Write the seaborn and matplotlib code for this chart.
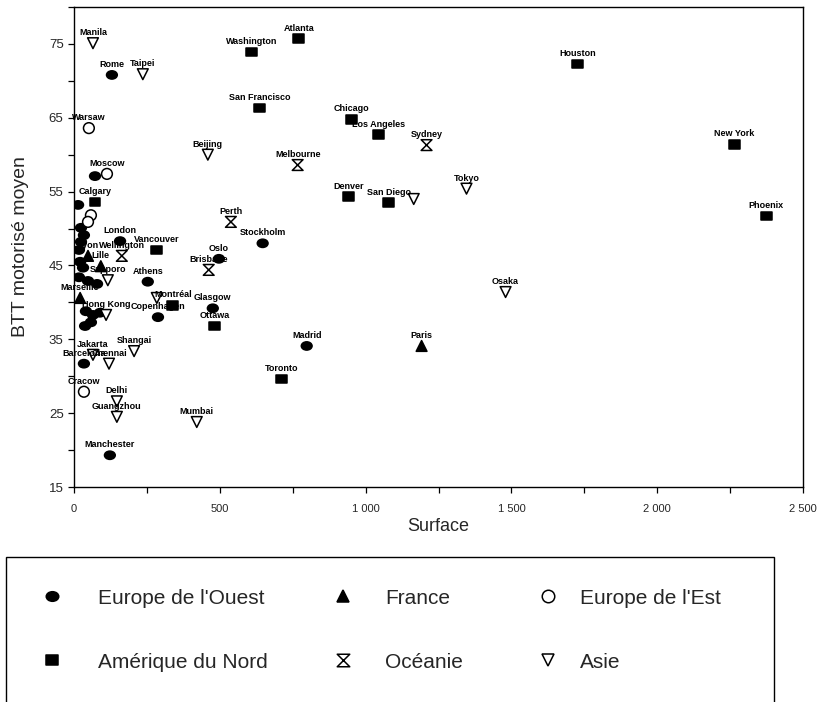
import numpy as np
import pandas as pd
import matplotlib
matplotlib.use("Agg")
import matplotlib.pyplot as plt
from matplotlib.path import Path
from matplotlib.transforms import Affine2D
from matplotlib.lines import Line2D
from matplotlib.patches import Rectangle
from matplotlib.ticker import MultipleLocator, FixedLocator
import seaborn as sns

# --- data -------------------------------------------------------------
cities = [
    # Europe de l'Ouest
    "Rome", "", "", "Stockholm", "London", "Oslo", "Athens", "Copenhagen",
    "Glasgow", "Madrid", "Barcelona", "Manchester",
    "", "", "", "", "", "", "", "", "", "", "", "", "", "",
    # France
    "Lyon", "Lille", "Marseille", "Paris",
    # Europe de l'Est
    "Warsaw", "Moscow", "", "", "Cracow",
    # Amérique du Nord
    "Atlanta", "Washington", "Houston", "San Francisco", "Chicago",
    "Los Angeles", "New York", "Denver", "San Diego", "Phoenix", "Calgary",
    "Vancouver", "Montréal", "Ottawa", "Toronto",
    # Océanie
    "Sydney", "Melbourne", "Perth", "Wellington", "Brisbane",
    # Asie
    "Manila", "Taipei", "Beijing", "Tokyo", "", "Osaka", "Sapporo",
    "Hong Kong", "", "Jakarta", "Shangai", "Chennai", "Delhi", "Guangzhou",
    "Mumbai",
]

surface = [
    130, 72, 14, 647, 158, 497, 253, 288, 476, 798, 34, 123,
    24, 34, 24, 17, 21, 31, 17, 48, 79, 41, 65, 89, 58, 38,
    48, 92, 21, 1192,
    51, 113, 58, 48, 34,
    771, 610, 1726, 637, 952, 1045, 2264, 942, 1079, 2374, 72, 284, 339, 483, 712,
    1209, 767, 538, 164, 462,
    65, 236, 459, 1346, 1165, 1480, 116, 110, 284, 65, 206, 120, 147, 147, 421,
]

btt = [
    70.8, 57.1, 53.2, 48.0, 48.3, 45.9, 42.8, 38.0, 39.2, 34.1, 31.7, 19.3,
    50.1, 49.1, 48.2, 47.1, 45.5, 44.7, 43.4, 42.9, 42.5, 38.8, 38.3, 38.6, 37.3, 36.8,
    46.3, 44.9, 40.6, 34.1,
    63.6, 57.4, 51.8, 50.9, 27.9,
    75.7, 73.9, 72.3, 66.3, 64.8, 62.7, 61.4, 54.3, 53.5, 51.7, 53.6, 47.1, 39.6, 36.8, 29.6,
    61.3, 58.6, 50.9, 46.3, 44.4,
    75.1, 70.9, 60.0, 55.4, 54.0, 41.4, 43.0, 38.3, 40.6, 32.9, 33.4, 31.7, 26.6, 24.5, 23.8,
]

region = (
    ["Europe de l'Ouest"] * 26
    + ["France"] * 4
    + ["Europe de l'Est"] * 5
    + ["Amérique du Nord"] * 15
    + ["Océanie"] * 5
    + ["Asie"] * 15
)

regions = ["Europe de l'Ouest", "France", "Europe de l'Est",
           "Amérique du Nord", "Océanie", "Asie"]

x_ticks = [0, 500, 1000, 1500, 2000, 2500]
x_tick_labels = ["0", "500", "1 000", "1 500", "2 000", "2 500"]
y_ticks = [15, 25, 35, 45, 55, 65, 75]

df = pd.DataFrame({"city": cities, "surface": surface, "btt": btt, "region": region})

# --- marker shapes ----------------------------------------------------
ellipse = Path.unit_circle().transformed(Affine2D().scale(1.3, 1.0))
rect = Path([(-1.25, -1), (1.25, -1), (1.25, 1), (-1.25, 1), (-1.25, -1)],
            [Path.MOVETO, Path.LINETO, Path.LINETO, Path.LINETO, Path.CLOSEPOLY])
hourglass = Path([(-1, 1), (1, 1), (-1, -1), (1, -1), (-1, 1)],
                 [Path.MOVETO, Path.LINETO, Path.LINETO, Path.LINETO, Path.CLOSEPOLY])

markers = {
    "Europe de l'Ouest": ellipse,
    "France": "^",
    "Europe de l'Est": "o",
    "Amérique du Nord": rect,
    "Océanie": hourglass,
    "Asie": "v",
}
palette = {
    "Europe de l'Ouest": "black",
    "France": "black",
    "Europe de l'Est": "white",
    "Amérique du Nord": "black",
    "Océanie": "white",
    "Asie": "white",
}

# --- figure -----------------------------------------------------------
sns.set_style("ticks")
plt.rcParams["font.family"] = ["Liberation Sans", "DejaVu Sans"]

fig = plt.figure(figsize=(8.19, 7.02), dpi=100)
ax = fig.add_axes([74 / 819, 1 - 487 / 702, 729 / 819, 480 / 702])

sns.scatterplot(data=df, x="surface", y="btt", hue="region", style="region",
                hue_order=regions, style_order=regions, palette=palette,
                markers=markers, s=60, edgecolor="black", linewidth=1.1,
                legend=False, ax=ax, zorder=3)

for name, xv, yv in zip(cities, surface, btt):
    if name:
        ax.annotate(name, (xv, yv), xytext=(0, 7.5), textcoords="offset points",
                    ha="center", va="center", fontsize=6.5, fontweight="bold",
                    color="black", zorder=4)

ax.set_xlim(0, 2500)
ax.set_ylim(15, 80)
ax.xaxis.set_major_locator(FixedLocator(x_ticks))
ax.set_xticklabels(x_tick_labels, fontsize=8)
ax.xaxis.set_minor_locator(MultipleLocator(250))
ax.yaxis.set_major_locator(FixedLocator(y_ticks))
ax.set_yticklabels([str(v) for v in y_ticks], fontsize=9.5)
ax.yaxis.set_minor_locator(FixedLocator([20, 30, 40, 50, 60, 70, 80]))
ax.tick_params(which="both", direction="out", length=4, width=0.9, color="black")
ax.tick_params(axis="x", pad=8)
for sp in ax.spines.values():
    sp.set_visible(True)
    sp.set_color("black")
    sp.set_linewidth(1.0)

ax.set_xlabel("Surface", fontsize=13)
ax.set_ylabel("BTT motorisé moyen", fontsize=14)
ax.xaxis.set_label_coords(0.5, -0.065)
ax.yaxis.set_label_coords(-0.062, 0.5)

# --- legend box --------------------------------------------------------
fig.patches.append(Rectangle((6 / 819, -0.05), 768 / 819, 0.05 + 1 - 557 / 702,
                             transform=fig.transFigure, fill=False,
                             edgecolor="black", linewidth=1.0))

em = 15 * 100 / 72.0
layout = [
    ("Europe de l'Ouest", 52, 598, 98),
    ("France", 343, 598, 385),
    ("Europe de l'Est", 548, 598, 580),
    ("Amérique du Nord", 52, 662, 98),
    ("Océanie", 343, 662, 385),
    ("Asie", 548, 662, 580),
]
for name, mx, my, tx in layout:
    h = Line2D([], [], linestyle="none", marker=markers[name], markersize=9,
               markerfacecolor=palette[name], markeredgecolor="black",
               markeredgewidth=1.1)
    pad = (tx - mx - 0.5 * em) / em
    fig.legend(handles=[h], labels=[name], loc="center left",
               bbox_to_anchor=((mx - 0.5 * em) / 819, 1 - my / 702),
               frameon=False, fontsize=15, handlelength=1.0,
               handletextpad=pad, borderpad=0, borderaxespad=0)

fig.savefig("out.png", dpi=100)
